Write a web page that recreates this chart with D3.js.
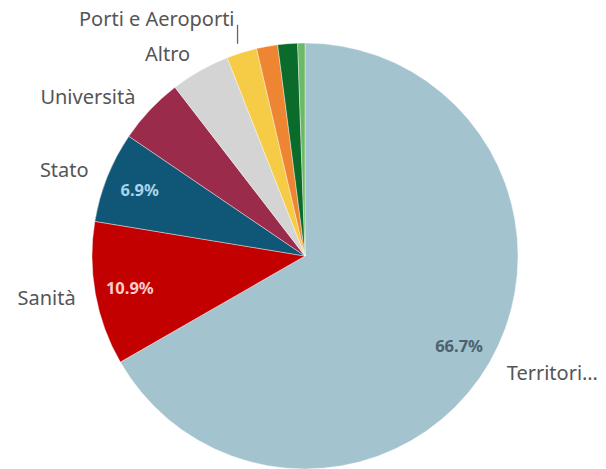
<!DOCTYPE html>
<html>
<head>
<meta charset="utf-8">
<script src="https://cdn.jsdelivr.net/npm/d3@7"></script>
<style>
  html, body { margin: 0; padding: 0; background: #fff; }
  svg { display: block; }
</style>
</head>
<body>
<svg id="chart" width="606" height="469"></svg>
<script>
const categories = ["Territori…", "Sanità", "Stato", "Università", "Altro", "Porti e Aeroporti", "Categoria 7", "Categoria 8", "Categoria 9"];
const values = [66.7, 10.9, 6.9, 5.05, 4.5, 2.3, 1.6, 1.5, 0.55];
const colors = ["#a3c3ce", "#c30000", "#0f5677", "#9a2b4b", "#d4d4d4", "#f6cb45", "#ee8532", "#0b6b2b", "#6cba68"];
const showName = [true, true, true, true, true, true, false, false, false];
const showPct = [true, true, true, false, false, false, false, false, false];
const pctColors = ["#4b6170", "#f8cccc", "#a9d5ea"];

const W = 606, H = 469;
const cx = 305, cy = 256, R = 213;
const svg = d3.select("#chart");
const g = svg.append("g").attr("transform", `translate(${cx},${cy})`);

const data = categories.map((c, i) => ({ name: c, value: values[i], color: colors[i], i }));
const pie = d3.pie().value(d => d.value).sort(null);
const arcs = pie(data);

const arc = d3.arc().innerRadius(0).outerRadius(R);
g.selectAll("path.slice").data(arcs).join("path")
  .attr("class", "slice")
  .attr("d", arc)
  .attr("fill", d => d.data.color)
  .attr("stroke", "#ffffff")
  .attr("stroke-width", 0.4);

const pctArc = d3.arc().innerRadius(178).outerRadius(178);
g.selectAll("text.pct").data(arcs.filter(d => showPct[d.data.i])).join("text")
  .attr("class", "pct")
  .attr("transform", d => `translate(${pctArc.centroid(d)})`)
  .attr("text-anchor", "middle")
  .attr("dominant-baseline", "central")
  .attr("font-family", "'Noto Sans', sans-serif")
  .attr("font-weight", "bold")
  .attr("font-size", 16.5)
  .attr("fill", d => pctColors[d.data.i])
  .text(d => d.data.value.toFixed(1) + "%");

const labelArc = d3.arc().innerRadius(233).outerRadius(233);
const edgeArc = d3.arc().innerRadius(R + 4).outerRadius(R + 4);
const named = arcs.filter(d => showName[d.data.i]);
named.forEach(d => {
  const mid = (d.startAngle + d.endAngle) / 2;
  let [x, y] = labelArc.centroid(d);
  const right = Math.sin(mid) > 0;
  if (d.data.name === "Porti e Aeroporti") {
    const [ex, ey] = edgeArc.centroid(d);
    const lx = ex - 3;
    g.append("line")
      .attr("x1", lx).attr("y1", ey - 5)
      .attr("x2", lx).attr("y2", ey - 24)
      .attr("stroke", "#5a6878").attr("stroke-width", 1.3);
    x = lx - 3; y = ey - 30;
  }
  g.append("text")
    .attr("x", x).attr("y", y)
    .attr("text-anchor", right ? "start" : "end")
    .attr("dominant-baseline", "central")
    .attr("font-family", "'Noto Sans', sans-serif")
    .attr("font-size", 20)
    .attr("fill", "#555555")
    .text(d.data.name);
});
</script>
</body>
</html>
